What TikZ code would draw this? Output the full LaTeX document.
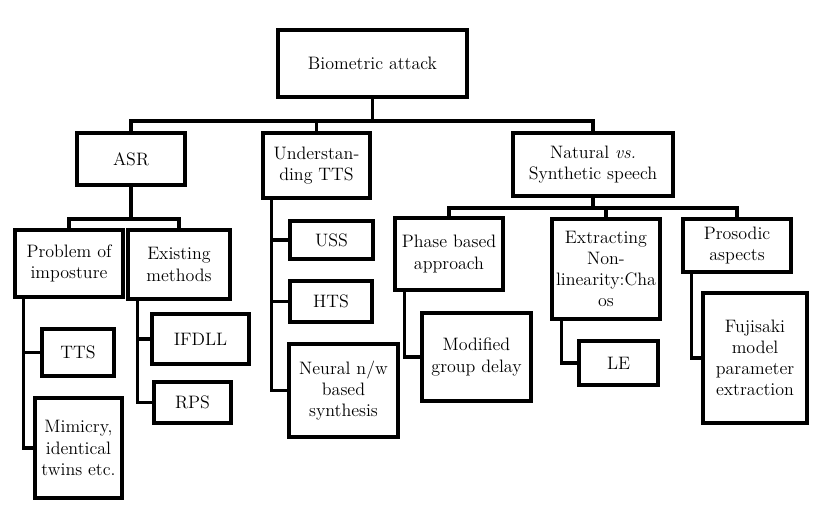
\documentclass[tikz,border=0pt]{standalone}
\begin{document}
\begin{tikzpicture}[x=0.025cm, y=-0.025cm, line join=miter,
		font=\fontsize{12.8}{15}\selectfont,
		box/.style={draw, line width=2.3pt, align=center, inner sep=0pt},
		link/.style={line width=2.3pt}]
	\useasboundingbox (0,0) rectangle (832,530);

	% A. Goc va tang thu nhat
	\node[box, minimum width=4.725cm, minimum height=1.675cm] (root) at (372.5,63.5) {Biometric attack};
	\node[box, minimum width=2.7cm, minimum height=1.3cm] (asr) at (131,159) {ASR};
	\node[box, minimum width=2.675cm, minimum height=1.625cm] (utts) at (316.5,165.5) {Understan-\\ding TTS};
	\node[box, minimum width=4cm, minimum height=1.575cm] (nat) at (593,164.5) {Natural \textit{vs.}\\Synthetic speech};
	\coordinate (bus1) at (372.5,121);
	\draw[link] (root) -- (bus1);
	\draw[link] (asr.north) |- (bus1) -| (nat.north);
	\draw[link] (utts.north) -- (utts.north |- bus1);

	% B. Nhanh ASR
	\node[box, minimum width=2.7cm, minimum height=1.675cm] (prob) at (69,263.5) {Problem of\\imposture};
	\node[box, minimum width=2.55cm, minimum height=1.725cm] (exist) at (179,264.5) {Existing\\methods};
	\coordinate (bus2) at (131,219);
	\draw[link] (asr) -- (bus2);
	\draw[link] (prob.north) |- (bus2) -| (exist.north);

	\node[box, minimum width=1.8cm, minimum height=1.175cm] (tts) at (78,352.5) {TTS};
	\node[box, minimum width=2.175cm, minimum height=2.5cm] (mim) at (78.5,448) {Mimicry,\\identical\\twins etc.};
	\draw[link] ([xshift=0.25cm]prob.south west) |- (tts.west);
	\draw[link] ([xshift=0.25cm]prob.south west) |- (mim.west);

	\node[box, minimum width=2.425cm, minimum height=1.25cm] (ifdll) at (200.5,339) {IFDLL};
	\node[box, minimum width=1.925cm, minimum height=1.025cm] (rps) at (192.5,402.5) {RPS};
	\draw[link] ([xshift=0.275cm]exist.south west) |- (ifdll.west);
	\draw[link] ([xshift=0.275cm]exist.south west) |- (rps.west);

	% C. Nhanh TTS
	\node[box, minimum width=2.075cm, minimum height=0.95cm] (uss) at (331.5,240) {USS};
	\node[box, minimum width=2.05cm, minimum height=1.025cm] (hts) at (331,301.5) {HTS};
	\node[box, minimum width=2.725cm, minimum height=2.325cm] (neural) at (343.5,390.5) {Neural n/w\\based\\synthesis};
	\foreach \n in {uss, hts, neural} {
		\draw[link] ([xshift=0.25cm]utts.south west) |- (\n.west);
	}

	% D. Nhanh tu nhien / tong hop
	\node[box, minimum width=2.7cm, minimum height=1.8cm] (phase) at (449,254) {Phase based\\approach};
	\node[box, minimum width=2.7cm, minimum height=2.5cm] (extr) at (606,269) {Extracting\\Non-\\linearity:Cha\\os};
	\node[box, minimum width=2.7cm, minimum height=1.325cm] (pros) at (737,245.5) {Prosodic\\aspects};
	\coordinate (bus3) at (593,208);
	\draw[link] (nat) -- (bus3);
	\draw[link] (phase.north) |- (bus3) -| (pros.north);
	\draw[link] (extr.north) -- (extr.north |- bus3);

	\node[box, minimum width=2.725cm, minimum height=2.2cm] (mgd) at (476.5,357) {Modified\\group delay};
	\node[box, minimum width=1.975cm, minimum height=1.1cm] (le) at (618.5,363) {LE};
	\node[box, minimum width=2.6cm, minimum height=3.25cm] (fuj) at (755,358) {Fujisaki\\model\\parameter\\extraction};
	\draw[link] ([xshift=0.275cm]phase.south west) |- (mgd.west);
	\draw[link] ([xshift=0.275cm]extr.south west) |- (le.west);
	\draw[link] ([xshift=0.25cm]pros.south west) |- (fuj.west);
\end{tikzpicture}
\end{document}
